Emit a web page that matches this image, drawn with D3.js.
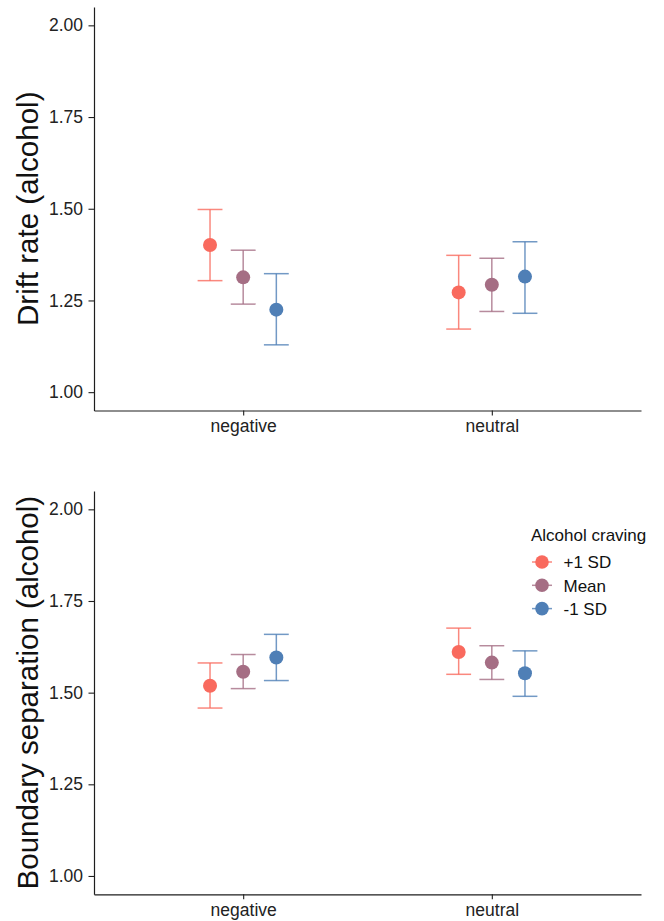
<!DOCTYPE html>
<html>
<head>
    <title></title>
    <script src="https://d3js.org/d3.v7.min.js"></script>
    <style type="text/css">
        html, body {
            margin: 0;
            padding: 0;
            background: #fff;
        }
        svg {
            display: block;
            font-family: "Liberation Sans", Arial, sans-serif;
        }
    </style>
</head>
<body>

    <svg id="main"></svg>

    <script>
      // data
      const conditions = ["negative", "neutral"];
      const groups     = ["+1 SD", "Mean", "-1 SD"];
      const groupColors = ["#F96A5E", "#A56E84", "#4F7FB6"];
      const yTicks     = [1.00, 1.25, 1.50, 1.75, 2.00];

      // drift rate: [negative, neutral] per group
      const driftMean  = [[1.401, 1.272], [1.313, 1.293], [1.225, 1.315]];
      const driftLow   = [[1.304, 1.172], [1.240, 1.220], [1.129, 1.215]];
      const driftHigh  = [[1.498, 1.373], [1.387, 1.365], [1.323, 1.410]];

      // boundary separation
      const boundMean  = [[1.519, 1.611], [1.557, 1.582], [1.596, 1.553]];
      const boundLow   = [[1.458, 1.550], [1.511, 1.536], [1.533, 1.490]];
      const boundHigh  = [[1.581, 1.676], [1.604, 1.628], [1.659, 1.614]];

      // settings
      const width  = 664;
      const height = 921;
      const LEFT   = 94;
      const RIGHT  = 641;

      const svg = d3.select("#main")
        .attr("width", width)
        .attr("height", height);

      const x = d3.scalePoint()
        .domain(conditions)
        .range([LEFT, RIGHT])
        .padding(0.6);
      const step = x.step();
      const dodge = d3.scaleBand()
        .domain(groups)
        .range([-0.2 * step, 0.2 * step]);
      const color = d3.scaleOrdinal().domain(groups).range(groupColors);
      const capW = 0.1 * step;

      function rows(mean, low, high) {
        const out = [];
        groups.forEach((g, gi) => {
          conditions.forEach((c, ci) => {
            out.push({group: g, cond: c, m: mean[gi][ci], lo: low[gi][ci], hi: high[gi][ci]});
          });
        });
        return out;
      }

      function panel(top, bottom, title, data) {
        const y = d3.scaleLinear().domain([0.95, 2.05]).range([bottom, top]);
        const g = svg.append("g");

        // axes
        const yAxis = g.append("g")
          .attr("transform", `translate(${LEFT},0)`)
          .call(d3.axisLeft(y).tickValues(yTicks).tickFormat(d3.format(".2f"))
            .tickSizeInner(5.5).tickSizeOuter(0).tickPadding(5.5));
        const xAxis = g.append("g")
          .attr("transform", `translate(0,${bottom})`)
          .call(d3.axisBottom(x).tickSizeInner(5).tickSizeOuter(0).tickPadding(3));
        [yAxis, xAxis].forEach(a => {
          a.select(".domain").attr("stroke", "#1e1e1e").attr("stroke-width", 1.2);
          a.selectAll(".tick line").attr("stroke", "#1e1e1e").attr("stroke-width", 1.1);
          a.selectAll(".tick text").attr("fill", "#222").style("font-size", "17.5px");
        });
        xAxis.selectAll(".tick text").attr("dy", "0.78em");

        // title
        g.append("text")
          .attr("transform", `translate(38,${(top + bottom) / 2}) rotate(-90)`)
          .attr("text-anchor", "middle")
          .attr("fill", "#111")
          .style("font-size", "29.5px")
          .text(title);

        const cx = d => x(d.cond) + dodge(d.group) + dodge.bandwidth() / 2;

        // error bars
        const eb = g.selectAll(".eb").data(data).enter().append("g")
          .attr("stroke", d => color(d.group))
          .attr("stroke-opacity", 0.8)
          .attr("stroke-width", 1.5);
        eb.append("line")
          .attr("x1", cx).attr("x2", cx)
          .attr("y1", d => y(d.lo)).attr("y2", d => y(d.hi));
        eb.append("line")
          .attr("x1", d => cx(d) - capW / 2).attr("x2", d => cx(d) + capW / 2)
          .attr("y1", d => y(d.hi)).attr("y2", d => y(d.hi));
        eb.append("line")
          .attr("x1", d => cx(d) - capW / 2).attr("x2", d => cx(d) + capW / 2)
          .attr("y1", d => y(d.lo)).attr("y2", d => y(d.lo));

        // points
        g.selectAll(".pt").data(data).enter().append("circle")
          .attr("cx", cx)
          .attr("cy", d => y(d.m))
          .attr("r", 7)
          .attr("fill", d => color(d.group));
      }

      panel(7, 410.5, "Drift rate (alcohol)", rows(driftMean, driftLow, driftHigh));
      panel(491, 894.3, "Boundary separation (alcohol)", rows(boundMean, boundLow, boundHigh));

      // legend
      const legend = svg.append("g").attr("transform", "translate(531,540.5)");
      legend.append("text")
        .attr("fill", "#111")
        .style("font-size", "17px")
        .text("Alcohol craving");
      const item = legend.selectAll(".item").data(groups).enter().append("g")
        .attr("transform", (d, i) => `translate(11,${21.5 + i * 23.3})`);
      item.append("line")
        .attr("x1", -10).attr("x2", 10)
        .attr("stroke", d => color(d))
        .attr("stroke-opacity", 0.8)
        .attr("stroke-width", 1.5);
      item.append("circle")
        .attr("r", 6.8)
        .attr("fill", d => color(d));
      item.append("text")
        .attr("x", 21.5)
        .attr("dy", "0.37em")
        .attr("fill", "#111")
        .style("font-size", "17px")
        .text(d => d);
    </script>

</body>
</html>
